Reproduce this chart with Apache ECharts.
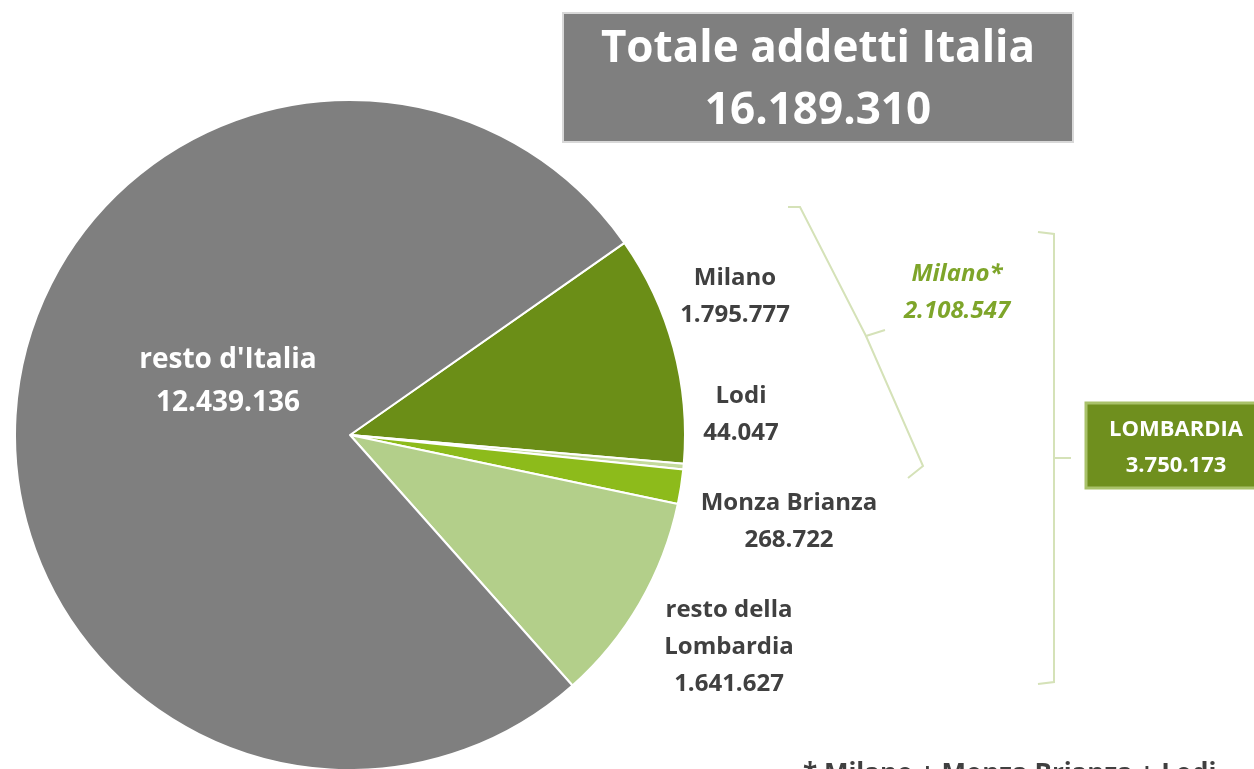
<!DOCTYPE html>
<html>
<head>
<meta charset="utf-8">
<script src="https://cdn.jsdelivr.net/npm/echarts@6/dist/echarts.min.js"></script>
<style>
  html, body { margin: 0; padding: 0; background: #fff; }
  #main { width: 1254px; height: 769px; }
</style>
</head>
<body>
<div id="main"></div>
<script>
// dati
var categories = ['Milano', 'Lodi', 'Monza Brianza', 'resto della\nLombardia', "resto d'Italia"];
var values = [1795777, 44047, 268722, 1641627, 12439136];
var colors = ['#6b8e17', '#c4da9c', '#8dbb1b', '#b3cf8a', '#7f7f7f'];
var totale = 16189310;
var milanoStar = 2108547;
var lombardia = 3750173;

// posizione etichette (centro del blocco di testo)
var labelPos = [[735, 297], [741, 415], [789, 522], [729, 647], [228, 382]];

function fmt(n) {
  return String(n).replace(/\B(?=(\d{3})+(?!\d))/g, '.');
}

var font = '"Open Sans", "Noto Sans", sans-serif';
var bracketColor = '#d5e2b8';

var myChart = echarts.init(document.getElementById('main'));

myChart.setOption({
  animation: false,
  series: [
    {
      type: 'pie',
      center: [350, 435],
      radius: 335,
      startAngle: 35,
      clockwise: true,
      avoidLabelOverlap: false,
      itemStyle: { borderColor: '#fff', borderWidth: 2 },
      label: {
        show: true,
        position: 'inside',
        fontFamily: font,
        fontWeight: 'bold',
        fontSize: 24,
        lineHeight: 37,
        color: '#404040',
        align: 'center',
        formatter: function (p) { return p.name + '\n' + fmt(p.value); }
      },
      labelLine: { show: false },
      labelLayout: function (p) {
        var pos = labelPos[p.dataIndex];
        return { x: pos[0], y: pos[1], align: 'center', verticalAlign: 'middle' };
      },
      data: categories.map(function (c, i) {
        var d = { name: c, value: values[i], itemStyle: { color: colors[i] } };
        if (i === 4) {
          d.label = { color: '#fff', fontSize: 28, lineHeight: 43 };
        }
        return d;
      })
    }
  ],
  graphic: [
    // titolo
    {
      type: 'rect',
      shape: { x: 563, y: 13, width: 510, height: 129 },
      style: { fill: '#7f7f7f', stroke: '#d8d8d8', lineWidth: 2 }
    },
    {
      type: 'text',
      x: 818, y: 80,
      style: {
        text: 'Totale addetti Italia\n' + fmt(totale),
        fill: '#fff', font: 'bold 44px ' + font,
        align: 'center', verticalAlign: 'middle', lineHeight: 62
      }
    },
    // parentesi Milano*
    {
      type: 'polyline',
      shape: { points: [[788, 207], [800, 207], [866, 336], [885, 330]] },
      style: { stroke: bracketColor, lineWidth: 2, fill: null }
    },
    {
      type: 'polyline',
      shape: { points: [[866, 336], [923, 466], [908, 478]] },
      style: { stroke: bracketColor, lineWidth: 2, fill: null }
    },
    {
      type: 'text',
      x: 957, y: 293,
      style: {
        text: 'Milano*\n' + fmt(milanoStar),
        fill: '#7ea52a', font: 'italic bold 24px ' + font,
        align: 'center', verticalAlign: 'middle', lineHeight: 37
      }
    },
    // parentesi Lombardia
    {
      type: 'polyline',
      shape: { points: [[1038, 232], [1054, 234], [1054, 682], [1038, 684]] },
      style: { stroke: bracketColor, lineWidth: 2, fill: null }
    },
    {
      type: 'line',
      shape: { x1: 1054, y1: 458, x2: 1071, y2: 458 },
      style: { stroke: bracketColor, lineWidth: 2 }
    },
    {
      type: 'rect',
      shape: { x: 1086, y: 403, width: 175, height: 85 },
      style: { fill: '#6f8f1e', stroke: '#a9c26a', lineWidth: 3 }
    },
    {
      type: 'text',
      x: 1176, y: 448,
      style: {
        text: 'LOMBARDIA\n' + fmt(lombardia),
        fill: '#fff', font: 'bold 22px ' + font,
        align: 'center', verticalAlign: 'middle', lineHeight: 36
      }
    },
    // nota
    {
      type: 'text',
      x: 803, y: 762,
      style: {
        text: '* Milano + Monza Brianza + Lodi',
        fill: '#404040', font: 'bold 26px ' + font,
        align: 'left', verticalAlign: 'top'
      }
    }
  ]
});
</script>
</body>
</html>
